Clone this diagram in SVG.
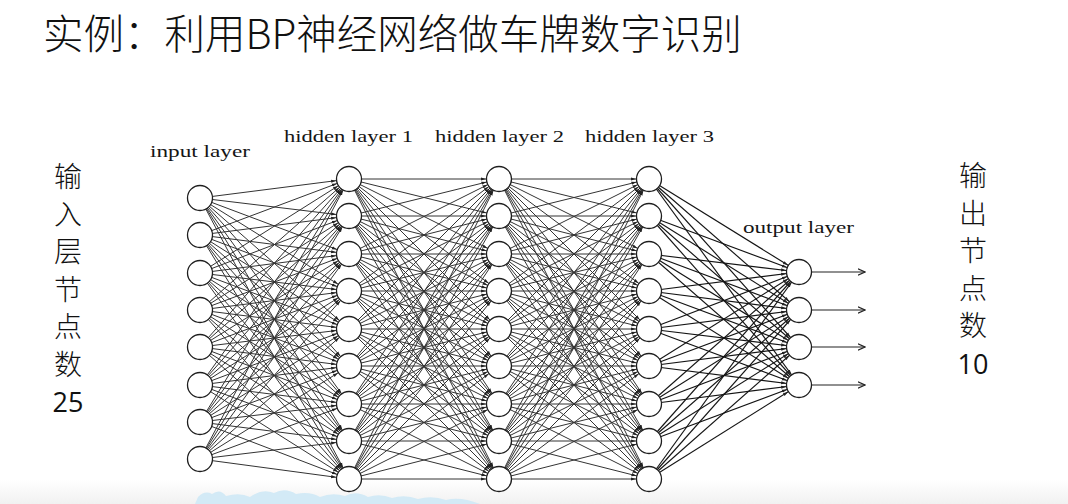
<svg xmlns="http://www.w3.org/2000/svg" xmlns:xlink="http://www.w3.org/1999/xlink" width="1068" height="504" viewBox="0 0 1068 504">
<style>
.title{font-family:"Noto Sans CJK SC","Noto Sans",sans-serif;font-size:40.5px;font-weight:300;fill:#111;}
.side{font-family:"Noto Sans CJK SC","Noto Sans",sans-serif;font-size:28px;font-weight:300;fill:#111;text-anchor:middle;}
.num{font-family:"Open Sans","Liberation Sans",sans-serif;font-size:27px;fill:#111;text-anchor:middle;}
.lbl{font-family:"Liberation Serif","DejaVu Serif",serif;font-size:17px;fill:#151515;}
.e{fill:none;stroke:#333;stroke-width:1;marker-end:url(#ah);}
.e2{fill:none;stroke:#141414;stroke-width:1.15;marker-end:url(#ah);}
.o{fill:none;stroke:#222;stroke-width:1.1;marker-end:url(#oa);}
.n{fill:#fff;stroke:#1e1e1e;stroke-width:1.3;}
</style>
<defs>
<marker id="ah" markerUnits="userSpaceOnUse" markerWidth="5" markerHeight="5" refX="18" refY="2.5" orient="auto"><path d="M0 0.9L5 2.5L0 4.1z" fill="#222"/></marker>
<marker id="oa" markerUnits="userSpaceOnUse" markerWidth="8" markerHeight="8" refX="7" refY="4" orient="auto"><path d="M0 0.8L7 4L0 7.2" fill="none" stroke="#222" stroke-width="1.1"/></marker>
<linearGradient id="bg" x1="0" y1="0" x2="0" y2="1"><stop offset="0" stop-color="#ffffff"/><stop offset="1" stop-color="#f1f1f1"/></linearGradient>
</defs>
<rect width="1068" height="504" fill="#fff"/>
<rect x="0" y="480" width="1068" height="24" fill="url(#bg)"/>
<path d="M195 504 L198 497 Q205 490 212 494 Q220 488 226 496 Q240 492 250 497 Q262 488 274 493 Q285 487 296 494 Q310 491 320 497 Q332 492 345 496 Q356 490 368 497 Q380 493 392 498 Q405 494 418 499 Q432 495 446 500 Q460 496 480 504 Z" fill="#d3eaf6"/>

<text class="title" x="43" y="49">实例：利用BP神经网络做车牌数字识别</text>

<g id="left-label">
<text class="side" x="68" y="187">输</text>
<text class="side" x="68" y="224.5">入</text>
<text class="side" x="68" y="262">层</text>
<text class="side" x="68" y="299.5">节</text>
<text class="side" x="68" y="337">点</text>
<text class="side" x="68" y="374.5">数</text>
<text class="num" x="68" y="412">25</text>
</g>
<g id="right-label">
<text class="side" x="973" y="186">输</text>
<text class="side" x="973" y="223.5">出</text>
<text class="side" x="973" y="261">节</text>
<text class="side" x="973" y="298.5">点</text>
<text class="side" x="973" y="336">数</text>
<text class="num" x="973" y="374">10</text>
</g>

<g id="layer-labels">
<text class="lbl" x="150" y="157" textLength="100" lengthAdjust="spacingAndGlyphs">input layer</text>
<text class="lbl" x="284" y="142" textLength="129" lengthAdjust="spacingAndGlyphs">hidden layer 1</text>
<text class="lbl" x="435" y="142" textLength="129" lengthAdjust="spacingAndGlyphs">hidden layer 2</text>
<text class="lbl" x="585" y="142" textLength="129" lengthAdjust="spacingAndGlyphs">hidden layer 3</text>
<text class="lbl" x="743" y="233" textLength="111" lengthAdjust="spacingAndGlyphs">output layer</text>
</g>

<g id="connectors">
<g id="ih">
<path class="e" d="M200 198 349 179"/><path class="e" d="M200 198 349 216"/><path class="e" d="M200 198 349 254"/><path class="e" d="M200 198 349 291"/><path class="e" d="M200 198 349 329"/><path class="e" d="M200 198 349 366"/><path class="e" d="M200 198 349 404"/><path class="e" d="M200 198 349 441"/><path class="e" d="M200 198 349 479"/>
<path class="e" d="M200 235 349 179"/><path class="e" d="M200 235 349 216"/><path class="e" d="M200 235 349 254"/><path class="e" d="M200 235 349 291"/><path class="e" d="M200 235 349 329"/><path class="e" d="M200 235 349 366"/><path class="e" d="M200 235 349 404"/><path class="e" d="M200 235 349 441"/><path class="e" d="M200 235 349 479"/>
<path class="e" d="M200 273 349 179"/><path class="e" d="M200 273 349 216"/><path class="e" d="M200 273 349 254"/><path class="e" d="M200 273 349 291"/><path class="e" d="M200 273 349 329"/><path class="e" d="M200 273 349 366"/><path class="e" d="M200 273 349 404"/><path class="e" d="M200 273 349 441"/><path class="e" d="M200 273 349 479"/>
<path class="e" d="M200 310 349 179"/><path class="e" d="M200 310 349 216"/><path class="e" d="M200 310 349 254"/><path class="e" d="M200 310 349 291"/><path class="e" d="M200 310 349 329"/><path class="e" d="M200 310 349 366"/><path class="e" d="M200 310 349 404"/><path class="e" d="M200 310 349 441"/><path class="e" d="M200 310 349 479"/>
<path class="e" d="M200 347 349 179"/><path class="e" d="M200 347 349 216"/><path class="e" d="M200 347 349 254"/><path class="e" d="M200 347 349 291"/><path class="e" d="M200 347 349 329"/><path class="e" d="M200 347 349 366"/><path class="e" d="M200 347 349 404"/><path class="e" d="M200 347 349 441"/><path class="e" d="M200 347 349 479"/>
<path class="e" d="M200 385 349 179"/><path class="e" d="M200 385 349 216"/><path class="e" d="M200 385 349 254"/><path class="e" d="M200 385 349 291"/><path class="e" d="M200 385 349 329"/><path class="e" d="M200 385 349 366"/><path class="e" d="M200 385 349 404"/><path class="e" d="M200 385 349 441"/><path class="e" d="M200 385 349 479"/>
<path class="e" d="M200 422 349 179"/><path class="e" d="M200 422 349 216"/><path class="e" d="M200 422 349 254"/><path class="e" d="M200 422 349 291"/><path class="e" d="M200 422 349 329"/><path class="e" d="M200 422 349 366"/><path class="e" d="M200 422 349 404"/><path class="e" d="M200 422 349 441"/><path class="e" d="M200 422 349 479"/>
<path class="e" d="M200 459 349 179"/><path class="e" d="M200 459 349 216"/><path class="e" d="M200 459 349 254"/><path class="e" d="M200 459 349 291"/><path class="e" d="M200 459 349 329"/><path class="e" d="M200 459 349 366"/><path class="e" d="M200 459 349 404"/><path class="e" d="M200 459 349 441"/><path class="e" d="M200 459 349 479"/>
</g>
<g id="h1h2">
<path class="e" d="M349 179 499 179"/><path class="e" d="M349 179 499 216"/><path class="e" d="M349 179 499 254"/><path class="e" d="M349 179 499 291"/><path class="e" d="M349 179 499 329"/><path class="e" d="M349 179 499 366"/><path class="e" d="M349 179 499 404"/><path class="e" d="M349 179 499 441"/><path class="e" d="M349 179 499 479"/>
<path class="e" d="M349 216 499 179"/><path class="e" d="M349 216 499 216"/><path class="e" d="M349 216 499 254"/><path class="e" d="M349 216 499 291"/><path class="e" d="M349 216 499 329"/><path class="e" d="M349 216 499 366"/><path class="e" d="M349 216 499 404"/><path class="e" d="M349 216 499 441"/><path class="e" d="M349 216 499 479"/>
<path class="e" d="M349 254 499 179"/><path class="e" d="M349 254 499 216"/><path class="e" d="M349 254 499 254"/><path class="e" d="M349 254 499 291"/><path class="e" d="M349 254 499 329"/><path class="e" d="M349 254 499 366"/><path class="e" d="M349 254 499 404"/><path class="e" d="M349 254 499 441"/><path class="e" d="M349 254 499 479"/>
<path class="e" d="M349 291 499 179"/><path class="e" d="M349 291 499 216"/><path class="e" d="M349 291 499 254"/><path class="e" d="M349 291 499 291"/><path class="e" d="M349 291 499 329"/><path class="e" d="M349 291 499 366"/><path class="e" d="M349 291 499 404"/><path class="e" d="M349 291 499 441"/><path class="e" d="M349 291 499 479"/>
<path class="e" d="M349 329 499 179"/><path class="e" d="M349 329 499 216"/><path class="e" d="M349 329 499 254"/><path class="e" d="M349 329 499 291"/><path class="e" d="M349 329 499 329"/><path class="e" d="M349 329 499 366"/><path class="e" d="M349 329 499 404"/><path class="e" d="M349 329 499 441"/><path class="e" d="M349 329 499 479"/>
<path class="e" d="M349 366 499 179"/><path class="e" d="M349 366 499 216"/><path class="e" d="M349 366 499 254"/><path class="e" d="M349 366 499 291"/><path class="e" d="M349 366 499 329"/><path class="e" d="M349 366 499 366"/><path class="e" d="M349 366 499 404"/><path class="e" d="M349 366 499 441"/><path class="e" d="M349 366 499 479"/>
<path class="e" d="M349 404 499 179"/><path class="e" d="M349 404 499 216"/><path class="e" d="M349 404 499 254"/><path class="e" d="M349 404 499 291"/><path class="e" d="M349 404 499 329"/><path class="e" d="M349 404 499 366"/><path class="e" d="M349 404 499 404"/><path class="e" d="M349 404 499 441"/><path class="e" d="M349 404 499 479"/>
<path class="e" d="M349 441 499 179"/><path class="e" d="M349 441 499 216"/><path class="e" d="M349 441 499 254"/><path class="e" d="M349 441 499 291"/><path class="e" d="M349 441 499 329"/><path class="e" d="M349 441 499 366"/><path class="e" d="M349 441 499 404"/><path class="e" d="M349 441 499 441"/><path class="e" d="M349 441 499 479"/>
<path class="e" d="M349 479 499 179"/><path class="e" d="M349 479 499 216"/><path class="e" d="M349 479 499 254"/><path class="e" d="M349 479 499 291"/><path class="e" d="M349 479 499 329"/><path class="e" d="M349 479 499 366"/><path class="e" d="M349 479 499 404"/><path class="e" d="M349 479 499 441"/><path class="e" d="M349 479 499 479"/>
</g>
<use id="h2h3" xlink:href="#h1h2" href="#h1h2" transform="translate(150 0)"/>
<g id="h3o">
<path class="e2" d="M649 179 799 272"/><path class="e2" d="M649 179 799 310"/><path class="e2" d="M649 179 799 347"/><path class="e2" d="M649 179 799 385"/>
<path class="e2" d="M649 216 799 272"/><path class="e2" d="M649 216 799 310"/><path class="e2" d="M649 216 799 347"/><path class="e2" d="M649 216 799 385"/>
<path class="e2" d="M649 254 799 272"/><path class="e2" d="M649 254 799 310"/><path class="e2" d="M649 254 799 347"/><path class="e2" d="M649 254 799 385"/>
<path class="e2" d="M649 291 799 272"/><path class="e2" d="M649 291 799 310"/><path class="e2" d="M649 291 799 347"/><path class="e2" d="M649 291 799 385"/>
<path class="e2" d="M649 329 799 272"/><path class="e2" d="M649 329 799 310"/><path class="e2" d="M649 329 799 347"/><path class="e2" d="M649 329 799 385"/>
<path class="e2" d="M649 366 799 272"/><path class="e2" d="M649 366 799 310"/><path class="e2" d="M649 366 799 347"/><path class="e2" d="M649 366 799 385"/>
<path class="e2" d="M649 404 799 272"/><path class="e2" d="M649 404 799 310"/><path class="e2" d="M649 404 799 347"/><path class="e2" d="M649 404 799 385"/>
<path class="e2" d="M649 441 799 272"/><path class="e2" d="M649 441 799 310"/><path class="e2" d="M649 441 799 347"/><path class="e2" d="M649 441 799 385"/>
<path class="e2" d="M649 479 799 272"/><path class="e2" d="M649 479 799 310"/><path class="e2" d="M649 479 799 347"/><path class="e2" d="M649 479 799 385"/>
</g>
<g id="out-arrows">
<path class="o" d="M812 272 865 272"/><path class="o" d="M812 310 865 310"/><path class="o" d="M812 347 865 347"/><path class="o" d="M812 385 865 385"/>
</g>
</g>

<g id="input-layer">
<g id="in1"><circle class="n" cx="200" cy="198" r="12.5"/></g>
<g id="in2"><circle class="n" cx="200" cy="235" r="12.5"/></g>
<g id="in3"><circle class="n" cx="200" cy="273" r="12.5"/></g>
<g id="in4"><circle class="n" cx="200" cy="310" r="12.5"/></g>
<g id="in5"><circle class="n" cx="200" cy="347" r="12.5"/></g>
<g id="in6"><circle class="n" cx="200" cy="385" r="12.5"/></g>
<g id="in7"><circle class="n" cx="200" cy="422" r="12.5"/></g>
<g id="in8"><circle class="n" cx="200" cy="459" r="12.5"/></g>
</g>
<g id="hidden-layer-1">
<g id="h1n1"><circle class="n" cx="349" cy="179" r="12.5"/></g>
<g id="h1n2"><circle class="n" cx="349" cy="216" r="12.5"/></g>
<g id="h1n3"><circle class="n" cx="349" cy="254" r="12.5"/></g>
<g id="h1n4"><circle class="n" cx="349" cy="291" r="12.5"/></g>
<g id="h1n5"><circle class="n" cx="349" cy="329" r="12.5"/></g>
<g id="h1n6"><circle class="n" cx="349" cy="366" r="12.5"/></g>
<g id="h1n7"><circle class="n" cx="349" cy="404" r="12.5"/></g>
<g id="h1n8"><circle class="n" cx="349" cy="441" r="12.5"/></g>
<g id="h1n9"><circle class="n" cx="349" cy="479" r="12.5"/></g>
</g>
<g id="hidden-layer-2">
<g id="h2n1"><circle class="n" cx="499" cy="179" r="12.5"/></g>
<g id="h2n2"><circle class="n" cx="499" cy="216" r="12.5"/></g>
<g id="h2n3"><circle class="n" cx="499" cy="254" r="12.5"/></g>
<g id="h2n4"><circle class="n" cx="499" cy="291" r="12.5"/></g>
<g id="h2n5"><circle class="n" cx="499" cy="329" r="12.5"/></g>
<g id="h2n6"><circle class="n" cx="499" cy="366" r="12.5"/></g>
<g id="h2n7"><circle class="n" cx="499" cy="404" r="12.5"/></g>
<g id="h2n8"><circle class="n" cx="499" cy="441" r="12.5"/></g>
<g id="h2n9"><circle class="n" cx="499" cy="479" r="12.5"/></g>
</g>
<g id="hidden-layer-3">
<g id="h3n1"><circle class="n" cx="649" cy="179" r="12.5"/></g>
<g id="h3n2"><circle class="n" cx="649" cy="216" r="12.5"/></g>
<g id="h3n3"><circle class="n" cx="649" cy="254" r="12.5"/></g>
<g id="h3n4"><circle class="n" cx="649" cy="291" r="12.5"/></g>
<g id="h3n5"><circle class="n" cx="649" cy="329" r="12.5"/></g>
<g id="h3n6"><circle class="n" cx="649" cy="366" r="12.5"/></g>
<g id="h3n7"><circle class="n" cx="649" cy="404" r="12.5"/></g>
<g id="h3n8"><circle class="n" cx="649" cy="441" r="12.5"/></g>
<g id="h3n9"><circle class="n" cx="649" cy="479" r="12.5"/></g>
</g>
<g id="output-layer">
<g id="o1"><circle class="n" cx="799" cy="272" r="12.5"/></g>
<g id="o2"><circle class="n" cx="799" cy="310" r="12.5"/></g>
<g id="o3"><circle class="n" cx="799" cy="347" r="12.5"/></g>
<g id="o4"><circle class="n" cx="799" cy="385" r="12.5"/></g>
</g>
</svg>
